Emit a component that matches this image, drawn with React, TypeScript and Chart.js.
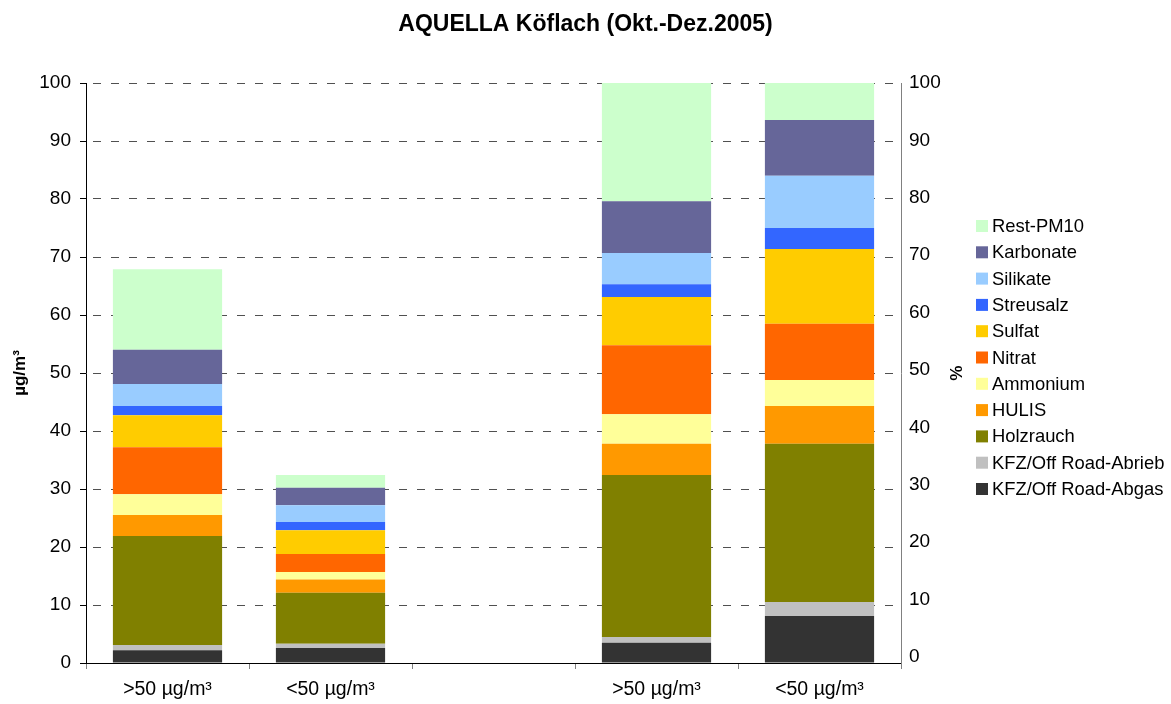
import React, { useEffect, useRef } from "react";
import { Chart, registerables } from "chart.js";

Chart.register(...registerables);

const categories = [">50 µg/m³", "<50 µg/m³", "", ">50 µg/m³", "<50 µg/m³"];

const abgas = [2.2, 2.6, null, 3.5, 8.1];
const abrieb = [0.9, 0.7, null, 1.0, 2.4];
const holzrauch = [18.8, 8.8, null, 27.9, 27.3];
const hulis = [3.6, 2.3, null, 5.4, 6.5];
const ammonium = [3.6, 1.3, null, 5.1, 4.5];
const nitrat = [8.1, 3.1, null, 11.9, 9.7];
const sulfat = [5.5, 4.1, null, 8.3, 12.9];
const streusalz = [1.6, 1.4, null, 2.2, 3.6];
const silikate = [3.8, 2.9, null, 5.4, 9.0];
const karbonate = [5.9, 3.0, null, 8.9, 9.6];
const rest = [13.9, 2.2, null, 20.4, 6.4];

const seriesNames = [
  "KFZ/Off Road-Abgas",
  "KFZ/Off Road-Abrieb",
  "Holzrauch",
  "HULIS",
  "Ammonium",
  "Nitrat",
  "Sulfat",
  "Streusalz",
  "Silikate",
  "Karbonate",
  "Rest-PM10",
];
const seriesValues = [abgas, abrieb, holzrauch, hulis, ammonium, nitrat, sulfat, streusalz, silikate, karbonate, rest];
const seriesColors = [
  "#333333",
  "#C0C0C0",
  "#808000",
  "#FF9900",
  "#FFFF99",
  "#FF6600",
  "#FFCC00",
  "#3366FF",
  "#99CCFF",
  "#666699",
  "#CCFFCC",
];

const leftTicks = [0, 10, 20, 30, 40, 50, 60, 70, 80, 90, 100];
const rightTicks = [0, 10, 20, 30, 40, 50, 60, 70, 80, 90, 100];

const FONT = "'Liberation Sans', Arial, sans-serif";

const legendPlugin = {
  id: "customLegend",
  afterDraw(chart: any) {
    const ctx = chart.ctx;
    const area = chart.chartArea;
    const x0 = area.right + 75;
    const y0 = 226;
    const step = 26.3;
    ctx.save();
    ctx.font = `18.4px ${FONT}`;
    ctx.textBaseline = "middle";
    ctx.textAlign = "left";
    const ds = chart.data.datasets;
    for (let i = ds.length - 1, k = 0; i >= 0; i--, k++) {
      const y = y0 + k * step;
      ctx.fillStyle = ds[i].backgroundColor;
      ctx.fillRect(x0, y - 6, 12, 12);
      ctx.fillStyle = "#000";
      ctx.fillText(ds[i].label, x0 + 16, y + 1);
    }
    ctx.restore();
  },
};

export default function App() {
  const ref = useRef<HTMLCanvasElement | null>(null);

  useEffect(() => {
    document.body.style.margin = "0";
    if (!ref.current) return;
    Chart.defaults.font.family = FONT;
    Chart.defaults.color = "#000";
    const chart = new Chart(ref.current, {
      type: "bar",
      data: {
        labels: categories,
        datasets: seriesNames.map((name, i) => ({
          label: name,
          data: seriesValues[i],
          backgroundColor: seriesColors[i],
          borderWidth: 0,
          barPercentage: 0.67,
          categoryPercentage: 1,
          yAxisID: "y",
        })),
      },
      options: {
        responsive: false,
        animation: false,
        events: [],
        layout: { padding: 0 },
        plugins: {
          legend: { display: false },
          tooltip: { enabled: false },
          title: {
            display: true,
            text: "AQUELLA Köflach (Okt.-Dez.2005)",
            color: "#000",
            font: { size: 23, weight: "bold", family: FONT },
            padding: { top: 11, bottom: 44.4 },
          },
        },
        scales: {
          x: {
            stacked: true,
            afterFit: (s: any) => {
              s.height = 41;
            },
            grid: {
              display: true,
              drawOnChartArea: false,
              drawTicks: true,
              tickLength: 6,
              color: "#808080",
              offset: true,
            },
            border: { display: true, color: "#000", width: 1 },
            ticks: { font: { size: 19.5 }, padding: 9, color: "#000", maxRotation: 0, autoSkip: false },
          },
          y: {
            stacked: true,
            position: "left",
            min: 0,
            max: 100,
            afterFit: (s: any) => {
              s.width = 86;
            },
            afterBuildTicks: (s: any) => {
              s.ticks = leftTicks.map((v) => ({ value: v }));
            },
            grid: {
              color: "#505050",
              tickLength: 6,
              tickColor: "#000",
              tickBorderDash: [],
            },
            border: { display: true, color: "#000", width: 1, dash: [8, 10], dashOffset: -6 },
            ticks: { font: { size: 19 }, padding: 9, color: "#000" },
            title: {
              display: true,
              text: "µg/m³",
              font: { size: 17, weight: "bold" },
              color: "#000",
              padding: { top: 10, bottom: 0 },
            },
          },
          y2: {
            position: "right",
            min: -1.05,
            max: 100,
            afterFit: (s: any) => {
              s.width = 270;
            },
            afterBuildTicks: (s: any) => {
              s.ticks = rightTicks.map((v) => ({ value: v }));
            },
            grid: { display: false, drawTicks: false, drawOnChartArea: false },
            border: { display: true, color: "#808080", width: 1 },
            ticks: { font: { size: 19 }, padding: 8, color: "#000" },
            title: {
              display: true,
              text: "%",
              font: { size: 17, weight: "bold" },
              color: "#000",
              padding: { top: 206, bottom: 0 },
            },
          },
        },
      } as any,
      plugins: [legendPlugin],
    });
    return () => chart.destroy();
  }, []);

  return <canvas ref={ref} width={1171} height={704} style={{ display: "block" }} />;
}
